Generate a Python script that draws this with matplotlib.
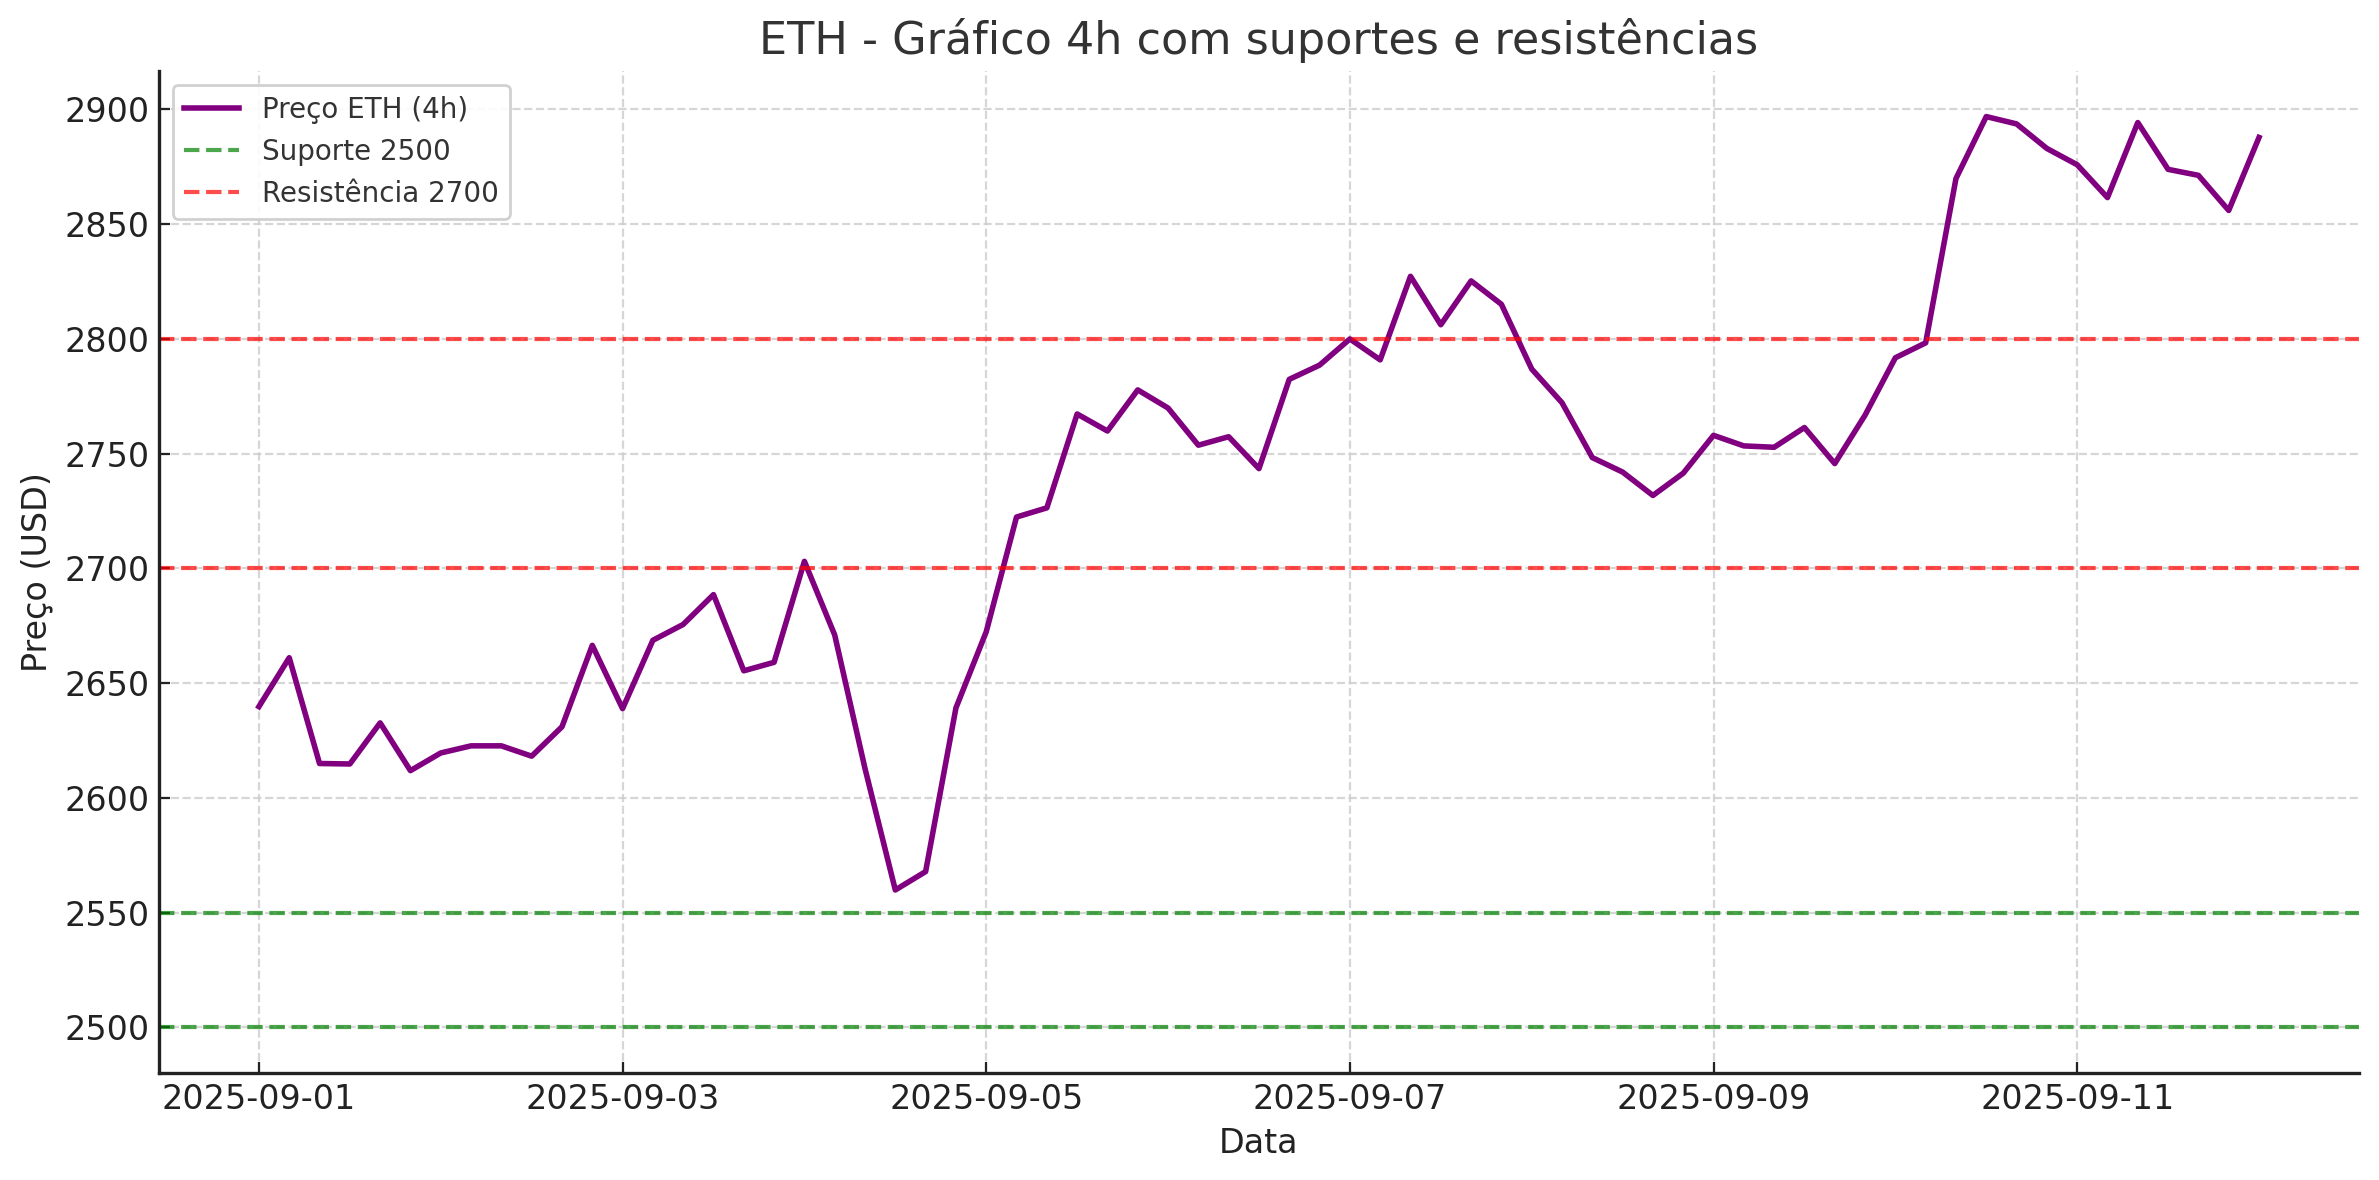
import matplotlib
matplotlib.use("Agg")
import matplotlib.pyplot as plt
import matplotlib.dates as mdates
import numpy as np
import pandas as pd

# 4h closes, 2025-09-01 00:00 -> 2025-09-12 00:00
start = "2025-09-01 00:00"
prices = [
    2639.8, 2661.1, 2615.0, 2614.8, 2632.7, 2611.9, 2619.6, 2622.7, 2622.7, 2618.2,
    2631.0, 2666.5, 2638.9, 2668.7, 2675.6, 2688.6, 2655.4, 2659.1, 2703.1, 2671.0,
    2612.8, 2559.9, 2567.9, 2639.2, 2672.4, 2722.4, 2726.4, 2767.3, 2759.9, 2777.8,
    2769.9, 2753.7, 2757.4, 2743.5, 2782.4, 2788.6, 2800.0, 2790.9, 2827.3, 2806.2,
    2825.3, 2815.1, 2786.9, 2772.2, 2748.3, 2742.0, 2731.8, 2741.5, 2758.0, 2753.4,
    2752.8, 2761.4, 2745.7, 2766.8, 2791.8, 2798.3, 2869.9, 2896.9, 2893.7, 2883.0,
    2875.9, 2861.6, 2894.3, 2873.9, 2871.3, 2856.0, 2887.8,
]
supports = [2500, 2550]
resistances = [2700, 2800]
tick_days = [1, 3, 5, 7, 9, 11]

dates = pd.date_range(start=start, periods=len(prices), freq="4h")

fig = plt.figure(figsize=(2379 / 200, 1180 / 200), dpi=200)
ax = fig.add_axes([0.0668, 0.0907, 0.9248, 0.8491])

ax.plot(dates, prices, color="purple", linewidth=2, label="Preço ETH (4h)")

for i, s in enumerate(supports):
    ax.axhline(s, color="green", linestyle="--", linewidth=1.5, alpha=0.7,
               label=f"Suporte {s}" if i == 0 else None)
for i, r in enumerate(resistances):
    ax.axhline(r, color="red", linestyle="--", linewidth=1.5, alpha=0.7,
               label=f"Resistência {r}" if i == 0 else None)

ax.set_title("ETH - Gráfico 4h com suportes e resistências", fontsize=16, color="#333333")
ax.set_xlabel("Data", fontsize=12, color="#222222")
ax.set_ylabel("Preço (USD)", fontsize=12, color="#222222")

ax.xaxis.set_major_locator(mdates.DayLocator(bymonthday=tick_days))
ax.xaxis.set_major_formatter(mdates.DateFormatter("%Y-%m-%d"))
ax.tick_params(axis="both", direction="in", labelsize=12, colors="#222222", length=4)

ax.grid(True, linestyle="--", color="#cccccc", alpha=0.8, linewidth=0.8)
ax.spines["top"].set_visible(False)
ax.spines["right"].set_visible(False)
for side in ("left", "bottom"):
    ax.spines[side].set_color("#222222")
    ax.spines[side].set_linewidth(1.2)

leg = ax.legend(loc="upper left", fontsize=10, framealpha=0.9)
leg.get_frame().set_edgecolor("#cccccc")
for t in leg.get_texts():
    t.set_color("#333333")

fig.savefig("out.png", dpi=200)
